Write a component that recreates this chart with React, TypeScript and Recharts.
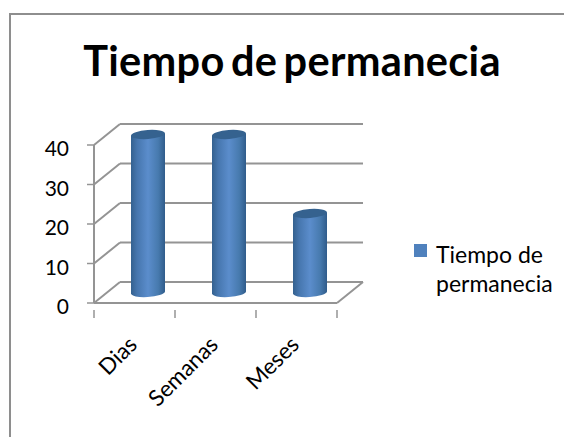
import { BarChart, Bar, XAxis, YAxis, CartesianGrid } from 'recharts';

const categories = ['Dias', 'Semanas', 'Meses'];
const values = [40, 40, 20];
const yTicks = [0, 10, 20, 30, 40];
const seriesName = 'Tiempo de permanecia';

const chartData = categories.map((name, i) => ({ name, value: values[i] }));

const AXIS = '#949494';
const DEPTH_X = 26;
const DEPTH_Y = 21;
const BAND = 81;

// back wall, floor and the slanted lines that fake the 3D box
const gridLine = (props: any) => {
  const { x1, x2, y1, index } = props;
  const isFloor = y1 > 290;
  return (
    <g key={`grid-${index}`} stroke={AXIS} strokeWidth={2} fill="none">
      <line x1={x1} y1={y1} x2={x1 + DEPTH_X} y2={y1 - DEPTH_Y} />
      <line x1={x1 + DEPTH_X} y1={y1 - DEPTH_Y} x2={x2 + DEPTH_X} y2={y1 - DEPTH_Y} />
      {isFloor && <line x1={x2} y1={y1} x2={x2 + DEPTH_X} y2={y1 - DEPTH_Y} />}
    </g>
  );
};

const Cylinder = (props: any) => {
  const { x, y, width, height } = props;
  const left = x + DEPTH_X / 2;
  const right = left + width;
  const top = y - DEPTH_Y / 2;
  const bottom = top + height;
  const rx = width / 2;
  const ry = 4.5;
  const body = `M${left} ${top + 1} L${left} ${bottom + 1} A${rx} ${ry} -4 0 0 ${right} ${bottom - 1} L${right} ${top - 1} Z`;
  return (
    <g>
      <path d={body} fill="url(#cylinderFill)" />
      <ellipse
        cx={left + rx}
        cy={top}
        rx={rx}
        ry={ry}
        fill="#35628f"
        transform={`rotate(-4 ${left + rx} ${top})`}
      />
    </g>
  );
};

const CategoryTick = (props: any) => {
  const { x, y, payload, index } = props;
  const left = x - BAND / 2;
  const lx = x + 4;
  const ly = y + 35;
  return (
    <g>
      <line x1={left} y1={y - 1} x2={left} y2={y + 7} stroke={AXIS} strokeWidth={1.5} />
      {index === categories.length - 1 && (
        <line x1={x + BAND / 2} y1={y - 1} x2={x + BAND / 2} y2={y + 7} stroke={AXIS} strokeWidth={1.5} />
      )}
      <text
        x={lx}
        y={ly}
        textAnchor="end"
        fontSize={22.5}
        fontFamily="Lato"
        fill="#000"
        transform={`rotate(-45 ${lx} ${ly})`}
      >
        {payload.value}
      </text>
    </g>
  );
};

export default function App() {
  return (
    <div style={{ position: 'absolute', left: 0, top: 0, width: 564, height: 437, background: '#fff', overflow: 'hidden', fontFamily: 'Lato' }}>
      <div style={{ position: 'absolute', left: 9, top: 13, width: 600, height: 500, borderLeft: '2px solid #8e8e8e', borderTop: '2px solid #8e8e8e' }} />
      <div style={{ position: 'absolute', left: 10, width: 564, top: 37, textAlign: 'center', fontSize: 41.5, letterSpacing: 0.3, wordSpacing: -4, lineHeight: '46px', fontWeight: 700, color: '#000' }}>
        {seriesName}
      </div>

      <BarChart
        width={564}
        height={437}
        data={chartData}
        margin={{ top: 145, right: 227, bottom: 74, left: 0 }}
        barSize={34}
      >
        <defs>
          <linearGradient id="cylinderFill" x1="0" y1="0" x2="1" y2="0">
            <stop offset="0%" stopColor="#34618f" />
            <stop offset="18%" stopColor="#4676ae" />
            <stop offset="50%" stopColor="#5b8dcc" />
            <stop offset="80%" stopColor="#477aae" />
            <stop offset="100%" stopColor="#305c8b" />
          </linearGradient>
        </defs>
        <CartesianGrid vertical={false} horizontal={gridLine} syncWithTicks />
        <XAxis
          dataKey="name"
          height={60}
          interval={0}
          tickLine={false}
          axisLine={{ stroke: AXIS, strokeWidth: 2 }}
          tick={CategoryTick}
        />
        <YAxis
          width={94}
          domain={[0, 40]}
          ticks={yTicks}
          interval={0}
          tickSize={7}
          tickMargin={18}
          tickLine={{ stroke: AXIS, strokeWidth: 1.5 }}
          axisLine={{ stroke: AXIS, strokeWidth: 2 }}
          tick={{ fill: '#000', fontSize: 21, fontFamily: 'Lato', dy: 4 }}
        />
        <Bar dataKey="value" name={seriesName} shape={Cylinder} isAnimationActive={false} />
      </BarChart>

      <div style={{ position: 'absolute', left: 414, top: 244, width: 13, height: 13, background: '#4f81bd' }} />
      <div style={{ position: 'absolute', left: 436, top: 240, width: 127, fontSize: 23, lineHeight: '29px', color: '#000' }}>
        {seriesName}
      </div>
    </div>
  );
}
